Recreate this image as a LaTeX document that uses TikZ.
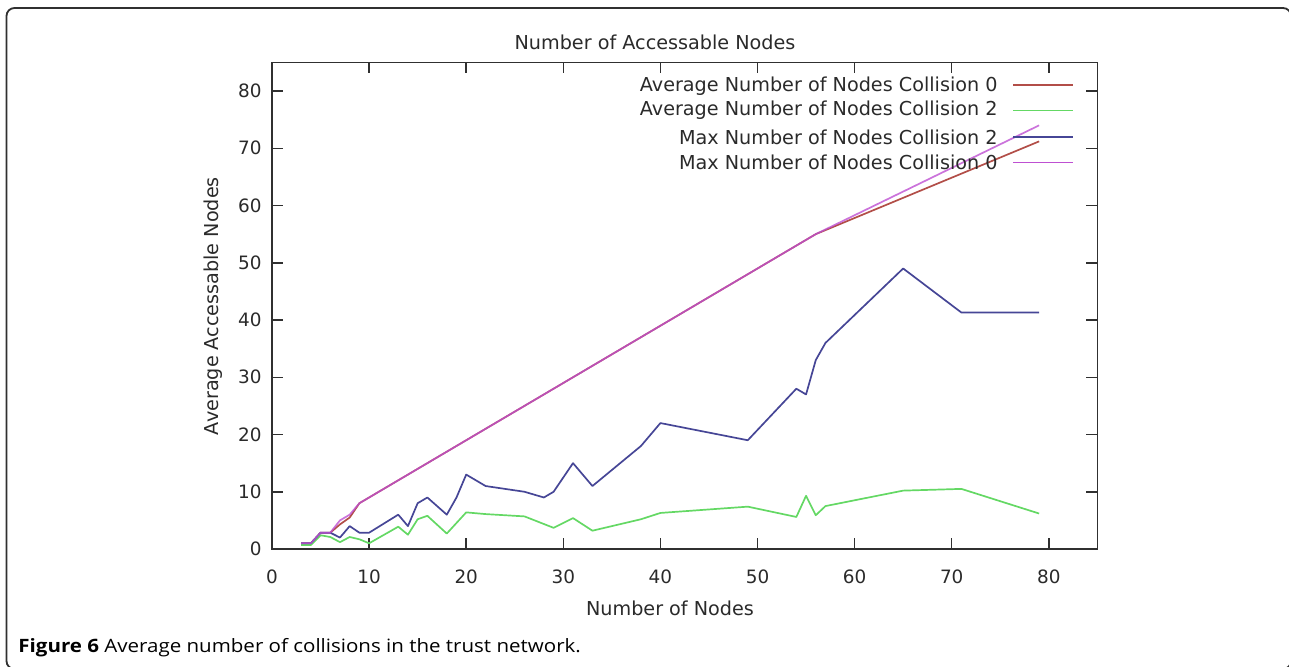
\documentclass[tikz,border=0pt]{standalone}
\usepackage{fontspec}
\setmainfont{DejaVu Sans}
\newfontfamily\capfont{Open Sans}
\definecolor{txtc}{HTML}{2A2A2A}
\definecolor{axc}{HTML}{303030}
\definecolor{cavgzero}{RGB}{178,78,72}
\definecolor{cavgtwo}{RGB}{100,216,100}
\definecolor{cmaxtwo}{RGB}{70,70,150}
\definecolor{cmaxzero}{RGB}{190,80,210}
\tikzset{
  frame/.style={draw=axc, line width=0.9pt},
  axisline/.style={draw=axc, line width=0.85pt},
  tickmark/.style={draw=axc, line width=0.75pt},
  ticklbl/.style={text=txtc, font=\fontsize{9.2pt}{11pt}\selectfont, inner sep=0pt},
  lbl/.style={text=txtc, font=\fontsize{9.6pt}{11pt}\selectfont, inner sep=0pt},
  series/.style={line width=0.85pt, line join=round},
}
\begin{document}
\begin{tikzpicture}[x=0.5pt,y=-0.5pt]
\useasboundingbox (0,0) rectangle (1289,666);
% outer panel, partly running off the page
\begin{scope}
  \clip (0,0) rectangle (1289,666);
  \draw[frame, rounded corners=4pt] (6.5,8) rectangle (1291,669);
\end{scope}

% title and axis labels
\node[lbl] (title) at (655,42) {Number of Accessable Nodes};
\node[lbl, rotate=90] (ylab) at (213,306) {Average Accessable Nodes};
\node[lbl] (xlab) at (670,608) {Number of Nodes};

% plot area in data coordinates
\begin{scope}[shift={(136pt,-274.5pt)}, x=4.855pt, y=2.8625pt]
  \draw[axisline] (0,0) rectangle (85,85);
  \foreach \t in {10,20,...,80} {
    \draw[tickmark] (\t,0) -- ++(0pt,5.5pt);
    \draw[tickmark] (\t,85) -- ++(0pt,-5.5pt);
    \draw[tickmark] (0,\t) -- ++(5.5pt,0pt);
    \draw[tickmark] (85,\t) -- ++(-5.5pt,0pt);
  }
  \foreach \t in {0,10,...,80} {
    \node[ticklbl, anchor=east] (yt\t) at ([xshift=-5pt]0,\t) {\t};
    \node[ticklbl] (xt\t) at ([yshift=-14pt]\t,0) {\t};
  }

  % Average Number of Nodes, Collision 0
  \draw[series, cavgzero] plot coordinates {(3,1) (4,1) (5,2.85) (6,2.85) (7,4.3) (8,5.5) (9,8) (56,55) (79,71.2)};
  % Average Number of Nodes, Collision 2
  \draw[series, cavgtwo] plot coordinates {(3,0.7) (4,0.7) (5,2.4) (6,2.1) (7,1.2) (8,2.1) (9,1.7) (10,1.0) (13,3.9) (14,2.5) (15,5.2) (16,5.8) (18,2.7) (20,6.4) (22,6.1) (26,5.7) (29,3.7) (31,5.4) (33,3.2) (38,5.2) (40,6.3) (49,7.4) (54,5.6) (55,9.3) (56,5.9) (57,7.5) (65,10.2) (71,10.5) (79,6.2)};
  % Max Number of Nodes, Collision 2
  \draw[series, cmaxtwo] plot coordinates {(3,1) (4,1) (5,2.85) (6,2.85) (7,2) (8,4) (9,2.85) (10,2.85) (13,6) (14,4) (15,8) (16,9) (18,6) (19,9) (20,13) (22,11) (26,10) (28,9) (29,10) (31,15) (33,11) (38,18) (40,22) (49,19) (54,28) (55,27) (56,33) (57,36) (65,49) (71,41.3) (79,41.3)};
  % Max Number of Nodes, Collision 0
  \draw[series, cmaxzero, opacity=0.8] plot coordinates {(3,1) (4,1) (5,2.85) (6,2.85) (7,5) (8,6) (9,8) (56,55) (79,74)};
\end{scope}

% key
\node[lbl, anchor=east] (k1) at (998,86) {Average Number of Nodes Collision 0};
\node[lbl, anchor=east] (k2) at (998,110.5) {Average Number of Nodes Collision 2};
\node[lbl, anchor=east] (k3) at (998,137.5) {Max Number of Nodes Collision 2};
\node[lbl, anchor=east] (k4) at (998,162) {Max Number of Nodes Collision 0};
\coordinate (s1a) at (1013,85);   \coordinate (s1b) at (1073,85);
\coordinate (s2a) at (1013,110.5);\coordinate (s2b) at (1073,110.5);
\coordinate (s3a) at (1013,137);  \coordinate (s3b) at (1073,137);
\coordinate (s4a) at (1013,162.5);\coordinate (s4b) at (1073,162.5);
\draw[series, cavgzero] (s1a) -- (s1b);
\draw[series, cavgtwo] (s2a) -- (s2b);
\draw[series, cmaxtwo] (s3a) -- (s3b);
\draw[series, cmaxzero] (s4a) -- (s4b);

% caption
\node[anchor=base west, inner sep=0pt, text=black, xscale=1.115, font=\capfont\fontsize{9.2pt}{11pt}\selectfont] (cap) at (18,652.5) {\textbf{Figure 6} Average number of collisions in the trust network.};
\end{tikzpicture}
\end{document}
